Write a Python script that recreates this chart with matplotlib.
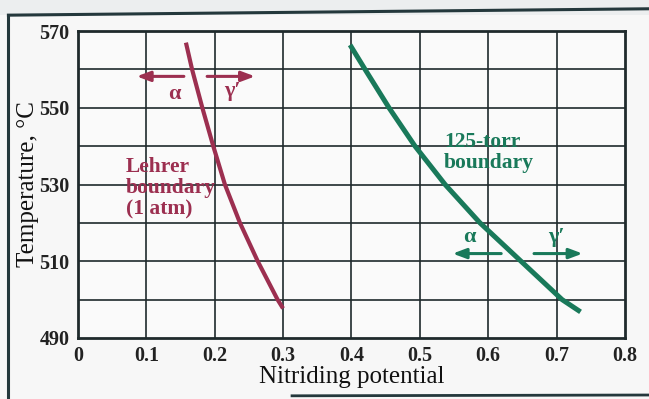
import matplotlib.pyplot as plt
from matplotlib.lines import Line2D

# Boundary curves: nitriding potential vs temperature (°C)
lehrer_kn = [0.158, 0.167, 0.182, 0.198, 0.215, 0.237, 0.263, 0.292, 0.300]
lehrer_temp = [567.0, 560, 550, 540, 530, 520, 510, 500, 497.7]
torr_kn = [0.398, 0.420, 0.455, 0.493, 0.537, 0.588, 0.648, 0.708, 0.735]
torr_temp = [566.4, 560, 550, 540, 530, 520, 510, 500, 496.8]

x_ticks = [0, 0.1, 0.2, 0.3, 0.4, 0.5, 0.6, 0.7, 0.8]
x_tick_labels = ['0', '0.1', '0.2', '0.3', '0.4', '0.5', '0.6', '0.7', '0.8']
y_grid = [490, 500, 510, 520, 530, 540, 550, 560, 570]
y_ticks = [490, 510, 530, 550, 570]

maroon = '#9c2f50'
green = '#19795a'
ink = '#1f2a2c'

plt.rcParams['font.family'] = ['Liberation Serif', 'DejaVu Serif']

fig = plt.figure(figsize=(6.49, 3.99), dpi=100, facecolor='#eceeef')
ax = fig.add_axes([0.120, 0.153, 0.843, 0.769])

# page border around the figure
fig.patches.append(plt.Rectangle((0.0, 0.0), 1.0, 0.962, transform=fig.transFigure,
                                 facecolor='#f7f7f7', edgecolor='none', zorder=-2))
fig.lines.append(Line2D([0.013, 1.0], [0.962, 0.978], transform=fig.transFigure,
                        color='#24383c', lw=2.2))
fig.lines.append(Line2D([0.013, 0.013], [0.0, 0.962], transform=fig.transFigure,
                        color='#24383c', lw=2.2))
fig.lines.append(Line2D([0.45, 1.0], [0.008, 0.01], transform=fig.transFigure,
                        color='#24383c', lw=2.0))

ax.set_facecolor('#fafafa')
ax.set_xlim(0, 0.8)
ax.set_ylim(490, 570)

for x in x_ticks[1:-1]:
    ax.axvline(x, color=ink, lw=1.2, zorder=1)
for y in y_grid[1:-1]:
    ax.axhline(y, color=ink, lw=1.2, zorder=1)
for s in ax.spines.values():
    s.set_linewidth(2.0)
    s.set_color(ink)

ax.set_xticks(x_ticks)
ax.set_xticklabels(x_tick_labels)
ax.set_yticks(y_ticks)
ax.tick_params(length=0, labelsize=14.5, colors='#222222', pad=6)
for lab in ax.get_xticklabels() + ax.get_yticklabels():
    lab.set_fontweight('bold')
ax.set_xlabel('Nitriding potential', fontsize=18, color='#111111', labelpad=0)
ax.set_ylabel('Temperature, °C', fontsize=18, color='#111111', labelpad=0)

ax.plot(lehrer_kn, lehrer_temp, color=maroon, lw=3.0, solid_capstyle='butt', zorder=3)
ax.plot(torr_kn, torr_temp, color=green, lw=3.6, solid_capstyle='butt', zorder=3)

arrow = dict(arrowstyle='-|>,head_length=0.8,head_width=0.3', lw=2.2, shrinkA=0, shrinkB=0)

# phase arrows for the Lehrer boundary
ax.annotate('', xy=(0.086, 558.2), xytext=(0.155, 558.2),
            arrowprops=dict(arrow, color=maroon), zorder=4)
ax.annotate('', xy=(0.259, 558.2), xytext=(0.189, 558.2),
            arrowprops=dict(arrow, color=maroon), zorder=4)
ax.text(0.141, 553.6, 'α', color=maroon, fontsize=16, fontweight='bold',
        ha='center', va='center')
ax.text(0.226, 554.4, 'γ′', color=maroon, fontsize=16, fontweight='bold',
        ha='center', va='center')
ax.text(0.070, 529.0, 'Lehrer\nboundary\n(1 atm)', color=maroon, fontsize=15.5,
        fontweight='bold', ha='left', va='center', linespacing=1.1)

# phase arrows for the 125-torr boundary
ax.annotate('', xy=(0.548, 512.0), xytext=(0.619, 512.0),
            arrowprops=dict(arrow, color=green), zorder=4)
ax.annotate('', xy=(0.738, 512.0), xytext=(0.667, 512.0),
            arrowprops=dict(arrow, color=green), zorder=4)
ax.text(0.573, 516.3, 'α', color=green, fontsize=16, fontweight='bold',
        ha='center', va='center')
ax.text(0.700, 516.3, 'γ′', color=green, fontsize=16, fontweight='bold',
        ha='center', va='center')
ax.text(0.535, 538.3, '125-torr\nboundary', color=green, fontsize=15.5,
        fontweight='bold', ha='left', va='center', linespacing=1.1)

fig.savefig('out.png', dpi=100, facecolor=fig.get_facecolor())
